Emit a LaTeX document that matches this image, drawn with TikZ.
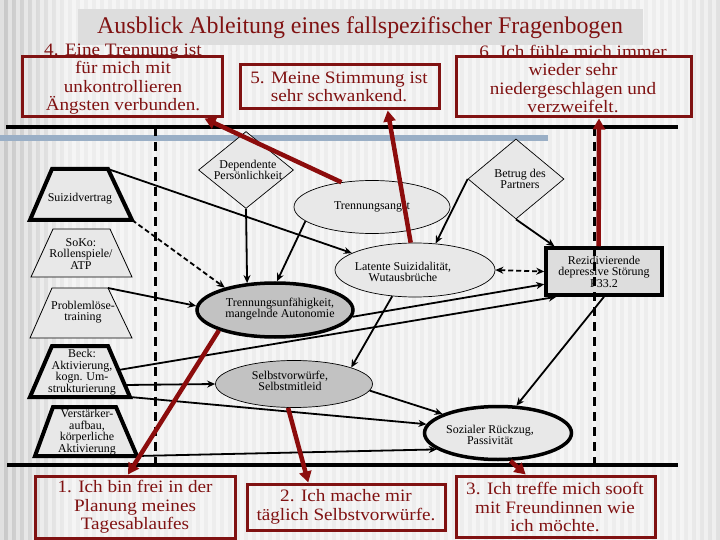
\documentclass[tikz,border=0pt]{standalone}
\usepackage{fontspec}
\setmainfont{Liberation Serif}
\newfontfamily\boxfont[FakeStretch=1.1]{Liberation Serif}
\usetikzlibrary{shapes.geometric,arrows.meta}
\definecolor{bgc}{HTML}{EDEDED}
\definecolor{titleg}{HTML}{DDDDDD}
\definecolor{boxred}{RGB}{128,18,18}
\definecolor{arred}{RGB}{140,12,12}
\definecolor{bandc}{HTML}{9AAFC6}
\definecolor{lightg}{HTML}{E8E8E8}
\definecolor{midg}{HTML}{C2C2C2}
\begin{document}
\begin{tikzpicture}[x=1bp,y=-1bp,
  nt/.style={font=\fontsize{12}{11.5}\selectfont, align=center, inner sep=0pt, text=black},
  ell/.style={ellipse, draw, line width=0.7bp, fill=lightg, inner sep=0pt},
  heavy/.style={line width=3.5bp},
  trap/.style={draw, fill=lightg, line width=0.8bp},
  heavytrap/.style={draw, fill=lightg, line width=4bp},
  dia/.style={diamond, draw, line width=0.7bp, fill=lightg, inner sep=0pt},
  rbox/.style={draw=boxred, line width=3bp, inner sep=0pt},
  btext/.style={text=boxred, font=\boxfont\fontsize{17.5}{18.5}\selectfont, align=center, inner sep=0pt},
  arr/.style={line width=1.8bp, -{Stealth[length=8bp,width=7bp]}},
  redarr/.style={draw=arred, line width=4.5bp, -{Triangle[length=11bp,width=12bp]}},
  dashv/.style={line width=3bp, dash pattern=on 9bp off 6bp}
]
\useasboundingbox (0,0) rectangle (720,540);
% background
\fill[bgc] (0,0) rectangle (720,540);
\shade[left color=black!22, right color=bgc] (0,0) rectangle (70,540);
\shade[left color=bgc, right color=black!12] (680,0) rectangle (720,540);
\foreach \i in {0,...,89} \fill[white, opacity=0.45] (\i*8,0) rectangle (\i*8+4,540);
% title
\fill[titleg] (78,9) rectangle (643,45);
\node[text=boxred, font=\fontsize{24}{26}\selectfont, inner sep=0pt] (title) at (360,28) {Ausblick Ableitung eines fallspezifischer Fragenbogen};
% question boxes
\node[rbox, minimum width=199bp, minimum height=60bp] (b4) at (122.5,87) {};
\node[btext] (t4) at (123,79) {4. Eine Trennung ist\\für mich mit\\unkontrollieren\\Ängsten verbunden.};
\node[rbox, minimum width=199bp, minimum height=44bp] (b5) at (339.5,87) {};
\node[btext] (t5) at (339,87) {5. Meine Stimmung ist\\sehr schwankend.};
\node[rbox, minimum width=235bp, minimum height=60bp] (b6) at (573.5,87) {};
\node[btext] (t6) at (573,79) {6. Ich fühle mich immer\\wieder sehr\\niedergeschlagen und\\verzweifelt.};
\node[rbox, minimum width=199bp, minimum height=62bp] (b1) at (135.5,507) {};
\node[btext] (t1) at (135,507) {1. Ich bin frei in der\\Planung meines\\Tagesablaufes};
\node[rbox, minimum width=198bp, minimum height=46bp] (b2) at (346,507) {};
\node[btext] (t2) at (346,507) {2. Ich mache mir\\täglich Selbstvorwürfe.};
\node[rbox, minimum width=199bp, minimum height=61bp] (b3) at (555.5,506.5) {};
\node[btext] (t3) at (555,507) {3. Ich treffe mich sooft\\mit Freundinnen wie\\ich möchte.};
% frame lines
\coordinate (tl) at (6,127); \coordinate (tr) at (678,127);
\coordinate (bl) at (7,465); \coordinate (br) at (678,465);
\coordinate (bandl) at (0,138); \coordinate (bandr) at (548,138);
\draw[line width=4bp] (tl) -- (tr);
\draw[line width=4bp] (bl) -- (br);
\draw[line width=6bp, bandc] (bandl) -- (bandr);
% left: interventions (trapezia)
\coordinate (suizTL) at (52,169); \coordinate (suizTR) at (108,169);
\coordinate (suizBR) at (132,220); \coordinate (suizBL) at (30,220);
\draw[heavytrap] (suizTL) -- (suizTR) -- (suizBR) -- (suizBL) -- cycle;
\node[nt] (suiz) at (80,199) {Suizidvertrag};
\coordinate (sokoTL) at (53,229); \coordinate (sokoTR) at (110,229);
\coordinate (sokoBR) at (132,277); \coordinate (sokoBL) at (31,277);
\draw[trap] (sokoTL) -- (sokoTR) -- (sokoBR) -- (sokoBL) -- cycle;
\node[nt] (soko) at (81,254) {SoKo:\\Rollenspiele/\\ATP};
\coordinate (probTL) at (52,288); \coordinate (probTR) at (108,288);
\coordinate (probBR) at (132,338); \coordinate (probBL) at (30,338);
\draw[trap] (probTL) -- (probTR) -- (probBR) -- (probBL) -- cycle;
\node[nt] (prob) at (83,312) {Problemlöse-\\training};
\coordinate (beckTL) at (52,346); \coordinate (beckTR) at (108,346);
\coordinate (beckBR) at (130,397); \coordinate (beckBL) at (30,397);
\coordinate (beckE) at (118.5,370); \coordinate (beckM) at (125,385);
\draw[heavytrap] (beckTL) -- (beckTR) -- (beckBR) -- (beckBL) -- cycle;
\node[nt] (beck) at (82,372) {Beck:\\Aktivierung,\\kogn. Um-\\strukturierung};
\coordinate (verstTL) at (53,407); \coordinate (verstTR) at (116,407);
\coordinate (verstBR) at (137,456); \coordinate (verstBL) at (35,456);
\draw[heavytrap] (verstTL) -- (verstTR) -- (verstBR) -- (verstBL) -- cycle;
\node[nt] (verst) at (87,432) {Verstärker-\\aufbau,\\körperliche\\Aktivierung};
% right: model
\node[dia, minimum width=95bp, minimum height=77bp,
  label={[nt,xshift=2bp]center:{Dependente\\Persönlichkeit}}] (dep) at (246,170) {};
\node[dia, minimum width=96bp, minimum height=80bp,
  label={[nt,xshift=4bp]center:{Betrug des\\Partners}}] (bet) at (516,179) {};
\node[ell, minimum width=156bp, minimum height=53bp,
  label={[nt]center:Trennungsangst}] (angst) at (372,207) {};
\node[ell, minimum width=160bp, minimum height=54bp,
  label={[nt,xshift=-12bp,yshift=-2bp]center:{Latente Suizidalität,\\Wutausbrüche}}] (lat) at (415,270) {};
\node[ell, heavy, fill=midg, minimum width=156bp, minimum height=54bp,
  label={[nt,xshift=5bp,yshift=1bp]center:{Trennungsunfähigkeit,\\mangelnde Autonomie}}] (unf) at (275,310) {};
\node[ell, fill=midg, minimum width=157bp, minimum height=47bp,
  label={[nt,xshift=-4bp,yshift=3bp]center:{Selbstvorwürfe,\\Selbstmitleid}}] (selbst) at (294,384) {};
\node[ell, heavy, minimum width=147bp, minimum height=53bp,
  label={[nt,xshift=-8bp,yshift=-2bp]center:{Sozialer Rückzug,\\Passivität}}] (soz) at (498,433) {};
\node[draw, heavy, fill=titleg, minimum width=116bp, minimum height=47bp, inner sep=0pt,
  label={[nt]center:{Rezidivierende\\depressive Störung\\F33.2}}] (rez) at (604,271.5) {};
% black connectors
\draw[arr] (suizTR) -- (lat.165);
\draw[arr, dash pattern=on 5bp off 3bp] (suizBR) -- (unf.156);
\draw[arr] (dep.south) -- (unf.136);
\draw[arr] (angst.192) -- (unf.86);
\draw[arr] (probTR) -- (unf.177);
\draw[arr] (bet.west) -- (lat.52);
\draw[arr] (bet.south) -- (rez.153);
\draw[arr, {Stealth[length=8bp,width=7bp]}-{Stealth[length=8bp,width=7bp]}, dash pattern=on 5bp off 3bp] (lat.east) -- (rez.west);
\draw[arr] (unf.355) -- (rez.192);
\draw[arr] (beckE) -- (rez.208);
\draw[arr] (rez.south) -- (soz.56);
\draw[arr] (lat.229) -- (selbst.16);
\draw[arr] (beckM) -- (selbst.west);
\draw[arr] (beckBR) -- (soz.173);
\draw[arr] (selbst.-5) -- (soz.161);
\draw[arr] (verstBR) -- (soz.195);
% dashed separators
\coordinate (dl1) at (155,127); \coordinate (dl2) at (155,465);
\coordinate (dr1) at (594,127); \coordinate (dr2) at (594,465);
\draw[dashv] (dl1) -- (dl2);
\draw[dashv] (dr1) -- (dr2);
% red links to questions
\draw[redarr] (angst.141) -- (b4.-21);
\draw[redarr] (lat.99) -- (b5.-26);
\draw[redarr] (rez.102) -- (b6.-51);
\draw[redarr] (unf.200) -- (b1.103);
\draw[redarr] (selbst.256) -- (b2.147);
\draw[redarr] (soz.294) -- (b3.133);
\end{tikzpicture}
\end{document}
